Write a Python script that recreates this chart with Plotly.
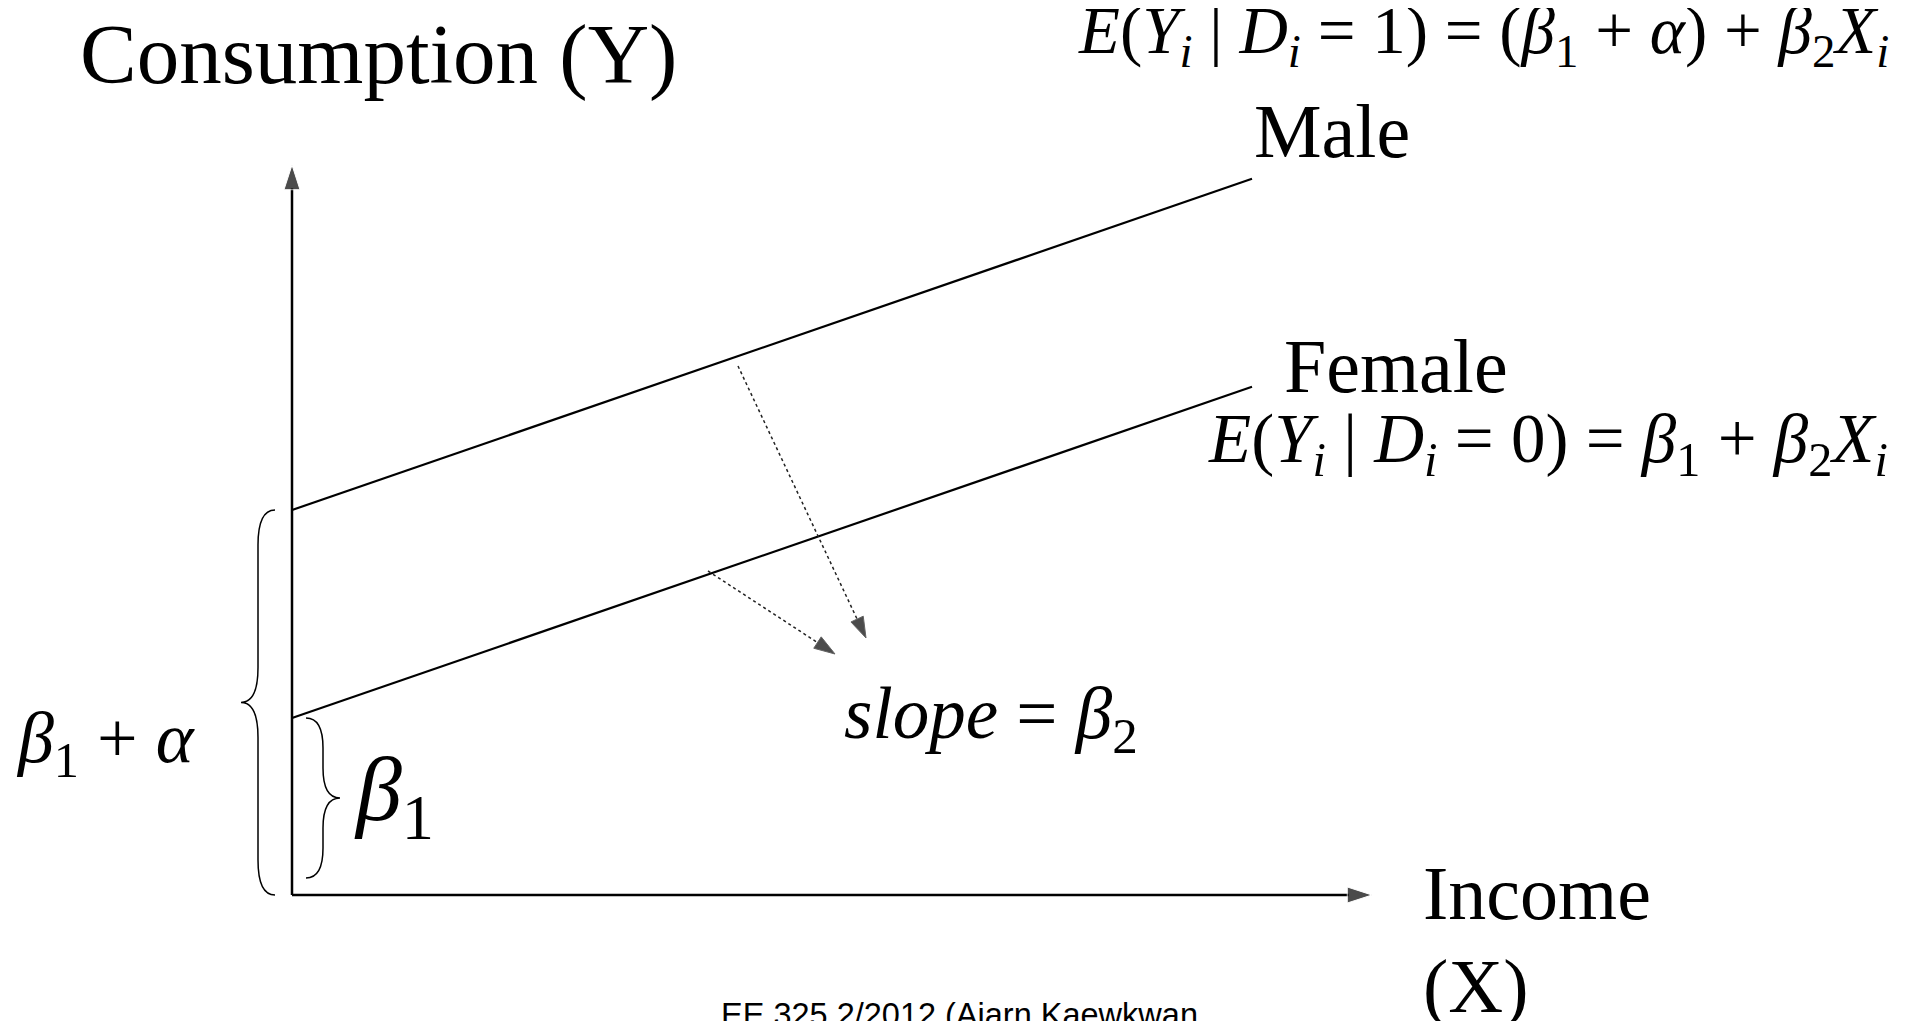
import plotly.graph_objects as go

# model values (chart units, 1 unit = 100 px on both axes)
beta1 = 1.77          # female intercept
beta1_alpha = 3.85    # male intercept (beta1 + alpha)
beta2 = 0.345         # common slope
income = [0, 9.6]
male = [beta1_alpha + beta2 * x for x in income]
female = [beta1 + beta2 * x for x in income]
axis_x_end = 10.8
axis_y_end = 7.3

SERIF = "Liberation Serif, Times New Roman, serif"

fig = go.Figure()

# axes with arrow heads
fig.add_trace(go.Scatter(
    x=[0, 0], y=[0, axis_y_end], mode="lines+markers",
    line=dict(color="black", width=2.5),
    marker=dict(symbol="arrow", size=[0, 26], angleref="previous", color="black"),
))
fig.add_trace(go.Scatter(
    x=[0, axis_x_end], y=[0, 0], mode="lines+markers",
    line=dict(color="black", width=2.5),
    marker=dict(symbol="arrow", size=[0, 26], angleref="previous", color="black"),
))

# male / female lines
fig.add_trace(go.Scatter(x=income, y=male, mode="lines", line=dict(color="black", width=2.2)))
fig.add_trace(go.Scatter(x=income, y=female, mode="lines", line=dict(color="black", width=2.2)))

# dotted pointers to the slope label
for (x0, y0, x1, y1) in [(4.46, 5.29, 5.74, 2.57), (4.16, 3.24, 5.43, 2.41)]:
    fig.add_trace(go.Scatter(
        x=[x0, x1], y=[y0, y1], mode="lines+markers",
        line=dict(color="#222222", width=1.5, dash="dot"),
        marker=dict(symbol="arrow", size=[0, 22], angleref="previous", color="black"),
    ))


def brace(top, bottom, arm, spine, tip, r):
    mid = (top + bottom) / 2
    d = 1 if top > bottom else -1
    return (f"M{arm},{top} Q{spine},{top} {spine},{top - d * r} "
            f"L{spine},{mid + d * r} Q{spine},{mid} {tip},{mid} "
            f"Q{spine},{mid} {spine},{mid - d * r} "
            f"L{spine},{bottom + d * r} Q{spine},{bottom} {arm},{bottom}")


fig.add_shape(type="path", path=brace(beta1_alpha, 0, -0.17, -0.34, -0.51, 0.35),
              xref="x", yref="y", line=dict(color="black", width=1.5))
fig.add_shape(type="path", path=brace(beta1, 0.17, 0.14, 0.31, 0.48, 0.3),
              xref="x", yref="y", line=dict(color="black", width=1.5))


def label(x, y, text, size, family=SERIF):
    fig.add_annotation(x=x, y=y, xref="x", yref="y", text=text, showarrow=False,
                       xanchor="left", yanchor="middle",
                       font=dict(family=family, size=size, color="black"))


eq1 = ("<i>E</i>(<i>Y</i><sub><i>i</i></sub> | <i>D</i><sub><i>i</i></sub> = 1) = "
       "(<i>β</i><sub>1</sub> + <i>α</i>) + <i>β</i><sub>2</sub><i>X</i><sub><i>i</i></sub>")
eq2 = ("<i>E</i>(<i>Y</i><sub><i>i</i></sub> | <i>D</i><sub><i>i</i></sub> = 0) = "
       "<i>β</i><sub>1</sub> + <i>β</i><sub>2</sub><i>X</i><sub><i>i</i></sub>")

label(-2.14, 8.41, "Consumption (Y)", 85)
label(7.84, 8.6, eq1, 67)
label(9.6, 7.64, "Male", 76)
label(9.9, 5.29, "Female", 76)
label(9.14, 4.52, eq2, 69)
label(5.5, 1.77, "<i>slope</i> = <i>β</i><sub>2</sub>", 73)
label(-2.78, 1.52, "<i>β</i><sub>1</sub> + <i>α</i>", 72)
label(0.6, 1.0, "<i>β</i><sub>1</sub>", 92)
label(11.29, 0.02, "Income", 76)
label(11.29, -0.91, "(X)", 76)
label(4.27, -1.2, "EE 325 2/2012 (Ajarn Kaewkwan", 32.5, "Liberation Sans, Arial, sans-serif")

fig.update_layout(
    width=1927,
    height=1021,
    margin=dict(l=0, r=0, t=0, b=0),
    showlegend=False,
    plot_bgcolor="white",
    paper_bgcolor="white",
    xaxis=dict(range=[-2.84, 16.43], visible=False, showgrid=False, zeroline=False),
    yaxis=dict(range=[-1.34, 8.87], visible=False, showgrid=False, zeroline=False),
)

fig.write_html("out.html")
